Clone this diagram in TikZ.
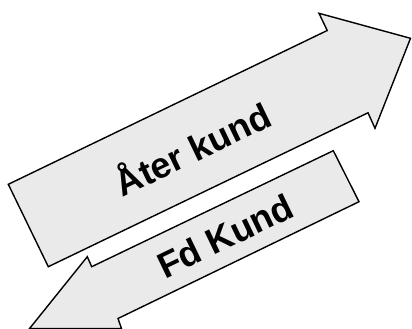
\documentclass[tikz,border=0pt]{standalone}
\usepackage{fontspec}
\setmainfont{Liberation Sans}
\definecolor{arrowfill}{HTML}{EAEAEA}
\begin{document}
\begin{tikzpicture}[x=1pt,y=-1pt,
  arrowshape/.style={draw=black,fill=arrowfill,line width=1.4pt,line join=miter},
  label/.style={font=\fontsize{36}{40}\selectfont\bfseries,text=black,rotate=25.7,anchor=base,inner sep=0pt}]
\useasboundingbox (0,0) rectangle (412,329);
\clip (0,0) rectangle (412,329);
\draw[arrowshape] (8.3,184.3) -- (327.2,30.5) -- (319,13.3) -- (410.5,38.3) -- (375,128.3) -- (368,112.8) -- (48.3,266.7) -- cycle;
\draw[arrowshape] (333.3,150.7) -- (359,201.7) -- (118,318.5) -- (121.5,328.6) -- (29.5,328.6) -- (87.3,256.7) -- (91.7,266.7) -- cycle;
\node[label] (ater) at (198.3,161.2) {Åter kund};
\node[label] (fd) at (230.8,247.5) {Fd Kund};
\end{tikzpicture}
\end{document}
